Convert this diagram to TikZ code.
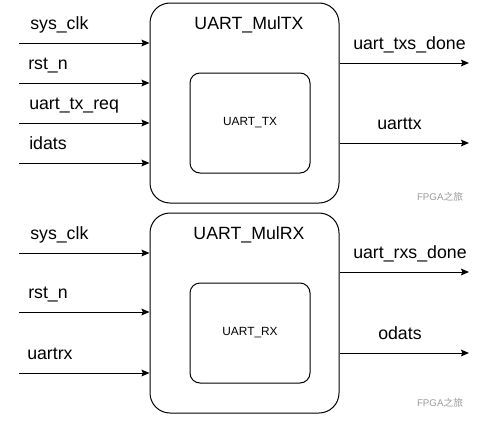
\documentclass[tikz,border=0pt]{standalone}
\usepackage{fontspec}
\setmainfont{Liberation Sans}
\newfontfamily\cjk{Noto Sans CJK SC}
\usetikzlibrary{arrows.meta, positioning}
\tikzset{block/.style={draw,line width=0.75pt,rounded corners=15pt,
    minimum width=141.75pt,minimum height=150pt,inner sep=0pt},
  core/.style={draw,line width=0.75pt,rounded corners=7.5pt,
    minimum width=90pt,minimum height=75pt,inner sep=0pt,
    font=\fontsize{8.9}{10}\selectfont},
  sig/.style={->,line width=0.75pt},
  pin/.style={anchor=base west,inner sep=0pt,font=\fontsize{13.3}{15}\selectfont},
  wmark/.style={inner sep=0pt,text=black!40,font=\fontsize{7.3}{8}\selectfont}}

\begin{document}
\begin{tikzpicture}[x=0.75pt, y=-0.75pt, >={Stealth[length=6pt,width=5pt,inset=1pt]}]
    \useasboundingbox (0,0) rectangle (495,421);

    % transmit module
    \node[block] (txbox) at (244.5,103) {};
    \node[core] (txcore) at (250,123) {UART\_TX};
    \node[pin, anchor=base] (txname) at (249,29.5) {UART\_MulTX};

    \coordinate (tx-in1) at (19,43);
    \coordinate (tx-in2) at (19,83);
    \coordinate (tx-in3) at (19,123);
    \coordinate (tx-in4) at (19,163);
    \coordinate (tx-out1) at (469,63);
    \coordinate (tx-out2) at (469,143);

    \draw[sig] (tx-in1) -- (tx-in1 -| txbox.west);
    \draw[sig] (tx-in2) -- (tx-in2 -| txbox.west);
    \draw[sig] (tx-in3) -- (tx-in3 -| txbox.west);
    \draw[sig] (tx-in4) -- (tx-in4 -| txbox.west);
    \draw[sig] (tx-out1 -| txbox.east) -- (tx-out1);
    \draw[sig] (tx-out2 -| txbox.east) -- (tx-out2);

    \node[pin] (tx-clk) at (30,29.5) {sys\_clk};
    \node[pin] (tx-rst) at (28,69.5) {rst\_n};
    \node[pin] (tx-req) at (29,109.5) {uart\_tx\_req};
    \node[pin] (tx-dat) at (29,149.5) {idats};
    \node[pin] (tx-done) at (353,49.5) {uart\_txs\_done};
    \node[pin] (tx-line) at (377,129.5) {uarttx};

    \node[wmark] (tx-wm) at (440,197) {FPGA{\cjk 之旅}};

    % receive module
    \node[block] (rxbox) at (244.5,313) {};
    \node[core] (rxcore) at (250,333) {UART\_RX};
    \node[pin, anchor=base] (rxname) at (249,239.5) {UART\_MulRX};

    \coordinate (rx-in1) at (19,253);
    \coordinate (rx-in2) at (19,312);
    \coordinate (rx-in3) at (19,373);
    \coordinate (rx-out1) at (469,272);
    \coordinate (rx-out2) at (469,353);

    \draw[sig] (rx-in1) -- (rx-in1 -| rxbox.west);
    \draw[sig] (rx-in2) -- (rx-in2 -| rxbox.west);
    \draw[sig] (rx-in3) -- (rx-in3 -| rxbox.west);
    \draw[sig] (rx-out1 -| rxbox.east) -- (rx-out1);
    \draw[sig] (rx-out2 -| rxbox.east) -- (rx-out2);

    \node[pin] (rx-clk) at (30,239.5) {sys\_clk};
    \node[pin] (rx-rst) at (28,298.5) {rst\_n};
    \node[pin] (rx-line) at (27,359.5) {uartrx};
    \node[pin] (rx-done) at (353,258.5) {uart\_rxs\_done};
    \node[pin] (rx-dat) at (378,339.5) {odats};

    \node[wmark] (rx-wm) at (440,403) {FPGA{\cjk 之旅}};
\end{tikzpicture}
\end{document}
